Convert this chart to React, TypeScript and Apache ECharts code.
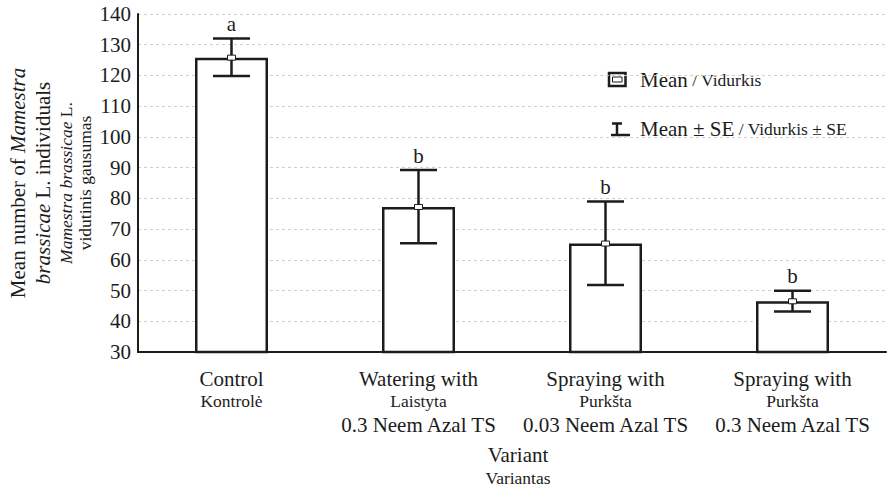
import React, { useEffect, useRef } from "react";
import * as echarts from "echarts";

const categories = ["Control", "Watering 0.3", "Spraying 0.03", "Spraying 0.3"];
const labelEn = ["Control", "Watering with", "Spraying with", "Spraying with"];
const labelLt = ["Kontrolė", "Laistyta", "Purkšta", "Purkšta"];
const labelDose = ["", "0.3 Neem Azal TS", "0.03 Neem Azal TS", "0.3 Neem Azal TS"];
const means = [125.8, 77.2, 65.3, 46.5];
const seLow = [119.8, 65.4, 51.8, 43.2];
const seHigh = [132.0, 89.2, 79.0, 49.9];
const letters = ["a", "b", "b", "b"];
const yTicks = { min: 30, max: 140, interval: 10 };

const FONT = "Liberation Serif";
const INK = "#1c1c1c";
const BIG = 21;
const SMALL = 17.5;

export default function App() {
  const ref = useRef<HTMLDivElement>(null);
  useEffect(() => {
    if (!ref.current) return;
    const chart = echarts.init(ref.current, null, { renderer: "svg" });
    const errData = categories.map((_, i) => [i, means[i], seLow[i], seHigh[i]]);
    const big = { fontSize: BIG, fontFamily: FONT, fill: INK };
    const small = { fontSize: SMALL, fontFamily: FONT, fill: INK };
    const option: any = {
      animation: false,
      backgroundColor: "#fff",
      textStyle: { fontFamily: FONT },
      grid: { left: 138, right: 1, top: 14, bottom: 137, containLabel: false },
      xAxis: {
        type: "category",
        data: categories,
        axisLine: { show: true, lineStyle: { color: INK, width: 2 } },
        axisTick: { show: true, inside: true, length: 2, alignWithLabel: true, lineStyle: { color: INK } },
        splitLine: { show: false },
        axisLabel: {
          margin: 16,
          interval: 0,
          fontFamily: FONT,
          color: INK,
          formatter: (_v: string, i: number) => {
            let s = `{a|${labelEn[i]}}\n{b|${labelLt[i]}}`;
            if (labelDose[i]) s += `\n{c|${labelDose[i]}}`;
            return s;
          },
          rich: {
            a: { fontSize: BIG, lineHeight: 22, fontFamily: FONT, color: INK },
            b: { fontSize: SMALL, lineHeight: 22, fontFamily: FONT, color: INK },
            c: { fontSize: BIG, lineHeight: 26, fontFamily: FONT, color: INK },
          },
        },
      },
      yAxis: {
        type: "value",
        min: yTicks.min,
        max: yTicks.max,
        interval: yTicks.interval,
        axisLine: { show: true, lineStyle: { color: INK, width: 2 } },
        axisTick: { show: false },
        axisLabel: { fontSize: BIG, fontFamily: FONT, color: INK, margin: 7 },
        splitLine: { show: true, lineStyle: { color: "#cfcfcf", type: [3, 3], width: 1 } },
      },
      series: [
        {
          type: "bar",
          data: means,
          barWidth: 73,
          itemStyle: { color: "#ffffff", borderColor: INK, borderWidth: 2.5 },
          z: 2,
        },
        {
          type: "custom",
          data: errData,
          encode: { x: 0, y: 1 },
          z: 3,
          renderItem: (params: any, api: any) => {
            const i = api.value(0);
            const m = api.value(1);
            const lo = api.value(2);
            const hi = api.value(3);
            const pHi = api.coord([i, hi]);
            const pLo = api.coord([i, lo]);
            const pM = api.coord([i, m]);
            const cap = 18.5;
            const ls = { stroke: INK, lineWidth: 2.5 };
            return {
              type: "group",
              children: [
                { type: "line", shape: { x1: pHi[0], y1: pHi[1], x2: pLo[0], y2: pLo[1] }, style: ls },
                { type: "line", shape: { x1: pHi[0] - cap, y1: pHi[1], x2: pHi[0] + cap, y2: pHi[1] }, style: ls },
                { type: "line", shape: { x1: pLo[0] - cap, y1: pLo[1], x2: pLo[0] + cap, y2: pLo[1] }, style: ls },
                {
                  type: "rect",
                  shape: { x: pM[0] - 4, y: pM[1] - 2.5, width: 8, height: 5 },
                  style: { fill: "#fff", stroke: INK, lineWidth: 1 },
                },
                {
                  type: "text",
                  x: pHi[0],
                  y: pHi[1] - 4,
                  style: {
                    text: letters[params.dataIndex],
                    fontSize: BIG,
                    fontFamily: FONT,
                    fill: INK,
                    align: "center",
                    verticalAlign: "bottom",
                  },
                },
              ],
            };
          },
        },
      ],
      graphic: [
        {
          type: "text",
          x: 18,
          y: 183,
          rotation: Math.PI / 2,
          style: {
            text: "{n|Mean number of }{i|Mamestra}",
            fontFamily: FONT,
            align: "center",
            verticalAlign: "middle",
            rich: { n: big, i: { ...big, fontStyle: "italic" } },
          },
        },
        {
          type: "text",
          x: 43,
          y: 183,
          rotation: Math.PI / 2,
          style: {
            text: "{i|brassicae}{n| L. individuals}",
            fontFamily: FONT,
            align: "center",
            verticalAlign: "middle",
            rich: { n: big, i: { ...big, fontStyle: "italic" } },
          },
        },
        {
          type: "text",
          x: 66,
          y: 183,
          rotation: Math.PI / 2,
          style: {
            text: "{i|Mamestra brassicae}{n| L.}",
            fontFamily: FONT,
            align: "center",
            verticalAlign: "middle",
            rich: { n: small, i: { ...small, fontStyle: "italic" } },
          },
        },
        {
          type: "text",
          x: 85,
          y: 183,
          rotation: Math.PI / 2,
          style: { text: "vidutinis gausumas", ...small, align: "center", verticalAlign: "middle" },
        },
        {
          type: "text",
          x: 518,
          y: 455,
          style: { text: "Variant", ...big, align: "center", verticalAlign: "middle" },
        },
        {
          type: "text",
          x: 518,
          y: 478,
          style: { text: "Variantas", ...small, align: "center", verticalAlign: "middle" },
        },
        {
          type: "rect",
          shape: { x: 609, y: 73, width: 16.5, height: 13 },
          style: { fill: "#fff", stroke: INK, lineWidth: 2.5 },
        },
        {
          type: "rect",
          shape: { x: 612.5, y: 77, width: 9.5, height: 5 },
          style: { fill: "#fff", stroke: INK, lineWidth: 1 },
        },
        {
          type: "text",
          x: 640,
          y: 80,
          style: {
            text: "{a|Mean}{b| / Vidurkis}",
            fontFamily: FONT,
            align: "left",
            verticalAlign: "middle",
            rich: { a: big, b: small },
          },
        },
        { type: "line", shape: { x1: 612, y1: 123.5, x2: 622, y2: 123.5 }, style: { stroke: INK, lineWidth: 2.5 } },
        { type: "line", shape: { x1: 617, y1: 123.5, x2: 617, y2: 135 }, style: { stroke: INK, lineWidth: 2.5 } },
        { type: "line", shape: { x1: 611, y1: 135, x2: 630, y2: 135 }, style: { stroke: INK, lineWidth: 2.5 } },
        {
          type: "text",
          x: 640,
          y: 129,
          style: {
            text: "{a|Mean ± SE}{b| / Vidurkis ± SE}",
            fontFamily: FONT,
            align: "left",
            verticalAlign: "middle",
            rich: { a: big, b: small },
          },
        },
      ],
    };
    chart.setOption(option);
    return () => chart.dispose();
  }, []);
  return (
    <div
      ref={ref}
      style={{ position: "fixed", left: 0, top: 0, width: 887, height: 489, background: "#fff" }}
    />
  );
}
